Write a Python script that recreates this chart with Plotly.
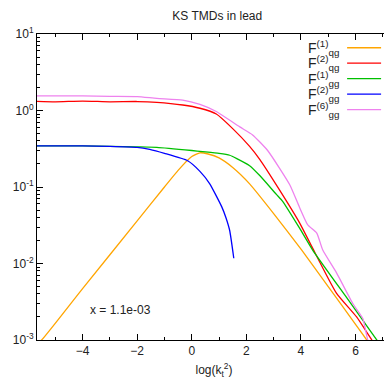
import plotly.graph_objects as go

# ---- data ----
x_f1qg = [-5.8, -5.5, -4.0, -2.0, -1.0, -0.5, 0.0, 0.3, 0.6, 1.0, 1.5, 2.12, 3.0, 4.03, 5.0, 6.0, 6.41, 6.7]
y_f1qg = [0.00082, 0.001, 0.0047, 0.036, 0.10, 0.165, 0.25, 0.28, 0.27, 0.24, 0.18, 0.11, 0.045, 0.015, 0.005, 0.0016, 0.001, 0.0007]

x_f2qg = [-5.8, -5.0, -4.0, -3.0, -2.0, -1.28, -0.33, 0.3, 0.9, 1.5, 2.12, 2.49, 3.22, 3.95, 4.4, 5.3, 6.04, 6.6, 6.8]
y_f2qg = [1.32, 1.30, 1.33, 1.30, 1.31, 1.28, 1.18, 1.07, 0.90, 0.58, 0.34, 0.23, 0.091, 0.034, 0.0166, 0.0041, 0.002, 0.001, 0.0008]

x_f1gg = [-5.8, -4.0, -3.0, -2.0, -1.28, 0.0, 0.4, 1.0, 1.39, 1.65, 2.12, 2.5, 3.1, 3.33, 3.95, 4.43, 5.67, 6.27, 6.78, 7.0]
y_f1gg = [0.345, 0.345, 0.34, 0.335, 0.33, 0.30, 0.29, 0.275, 0.26, 0.235, 0.19, 0.14, 0.08, 0.065, 0.029, 0.015, 0.0036, 0.0018, 0.001, 0.0008]

x_f2gg = [-5.8, -4.0, -3.0, -2.0, -1.54, -1.0, -0.15, 0.3, 0.66, 1.1, 1.25, 1.39, 1.54]
y_f2gg = [0.345, 0.345, 0.34, 0.33, 0.31, 0.275, 0.22, 0.16, 0.11, 0.055, 0.04, 0.027, 0.0117]

x_f6gg = [-5.8, -4.0, -3.0, -2.0, -1.28, -0.33, 0.3, 0.9, 1.76, 2.23, 2.78, 3.59, 3.95, 4.25, 4.58, 4.8, 5.3, 5.9, 6.27, 6.45, 6.6]
y_f6gg = [1.55, 1.55, 1.53, 1.52, 1.44, 1.37, 1.2, 0.97, 0.61, 0.48, 0.30, 0.107, 0.054, 0.032, 0.025, 0.015, 0.0076, 0.003, 0.0019, 0.001, 0.0008]

names = ["F<sup>(1)</sup><sub>qg</sub>", "F<sup>(2)</sup><sub>qg</sub>", "F<sup>(1)</sup><sub>gg</sub>",
         "F<sup>(2)</sup><sub>gg</sub>", "F<sup>(6)</sup><sub>gg</sub>"]
colors = ["#ffa500", "#ff0000", "#00c000", "#0000ff", "#ee82ee"]
series = [(x_f1qg, y_f1qg), (x_f2qg, y_f2qg), (x_f1gg, y_f1gg), (x_f2gg, y_f2gg), (x_f6gg, y_f6gg)]

y_tickvals = [0.001, 0.01, 0.1, 1, 10]
y_ticktext = ["10<sup>-3</sup>", "10<sup>-2</sup>", "10<sup>-1</sup>", "10<sup>0</sup>", "10<sup>1</sup>"]
y_minor = [m * 10.0 ** e for e in range(-3, 1) for m in range(2, 10)]

fig = go.Figure()
for (xs, ys), nm, c in zip(series, names, colors):
    fig.add_trace(go.Scatter(x=xs, y=ys, mode="lines", name=nm,
                             line=dict(color=c, width=1.3, shape="spline", smoothing=0.5),
                             showlegend=False))

# manual gnuplot-style legend (text left, sample right)
leg_y0 = 0.955
leg_dy = 0.0505
for i, (nm, c) in enumerate(zip(names, colors)):
    yy = leg_y0 - i * leg_dy
    fig.add_annotation(xref="paper", yref="paper", x=0.858, y=yy, text=nm,
                       showarrow=False, xanchor="right", yanchor="middle",
                       font=dict(size=14, color="#222"))
    fig.add_shape(type="line", xref="paper", yref="paper", x0=0.876, x1=0.972,
                  y0=yy, y1=yy, line=dict(color=c, width=1.3))

fig.add_annotation(x=-2.6, y=-2.61, xref="x", yref="y", text="x = 1.1e-03",
                   showarrow=False, font=dict(size=12, color="#222"))

axis_common = dict(showline=True, linecolor="black", linewidth=1, mirror="allticks",
                   ticks="inside", tickcolor="black", ticklen=6, showgrid=False,
                   zeroline=False, automargin=False, tickfont=dict(size=12, color="#222"))

fig.update_xaxes(range=[-5.67, 7.3], dtick=2, tick0=0,
                 minor=dict(ticks="inside", ticklen=3, dtick=1, tick0=1, tickcolor="black"),
                 title=dict(text="log(k<sub>t</sub><sup>2</sup>)", font=dict(size=12, color="#222"), standoff=8),
                 **axis_common)
fig.update_yaxes(type="log", range=[-3, 1], tickmode="array", tickvals=y_tickvals, ticktext=y_ticktext,
                 minor=dict(ticks="inside", ticklen=3, tickmode="array", tickvals=y_minor, tickcolor="black"),
                 **axis_common)

fig.update_layout(
    width=384, height=380,
    margin=dict(l=29, r=1, t=26, b=48, autoexpand=False),
    paper_bgcolor="white", plot_bgcolor="white",
    font=dict(family="Liberation Sans, Arial, sans-serif", color="#222"),
    title=dict(text="KS TMDs in lead", x=0.545, xanchor="center", y=0.99, yanchor="top",
               font=dict(size=12, color="#222")),
)

fig.write_html("out.html")
